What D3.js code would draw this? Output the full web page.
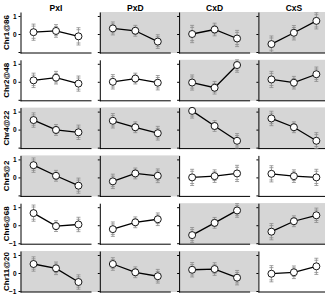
<!DOCTYPE html>
<html>
<head>
<meta charset="utf-8">
<script src="https://cdn.jsdelivr.net/npm/d3@7"></script>
<style>
  html, body { margin: 0; padding: 0; background: #fff; overflow: hidden; }
  svg { display: block; }
  text { font-family: "Liberation Sans", Arial, sans-serif; font-weight: bold; fill: #000; }
</style>
</head>
<body>
<div id="chart"></div>
<script>
// 数据
const crosses = ['PxI', 'PxD', 'CxD', 'CxS'];
const loci = ['Chr1@86', 'Chr2@48', 'Chr4@22', 'Chr5@2', 'Chr6@68', 'Chr11@20'];
const genotypes = [
    ['P/P', 'P/I', 'I/I'],
    ['P/P', 'P/D', 'D/D'],
    ['C/C', 'C/D', 'D/D'],
    ['C/C', 'C/S', 'S/S']
];
const yTicks = [-1, 0, 1];

// 每行每列的均值
const means = [
    [[0.10, 0.17, -0.13], [0.31, 0.18, -0.42], [0.00, 0.25, -0.25], [-0.56, 0.07, 0.73]],
    [[0.08, 0.23, -0.10], [0.00, 0.18, -0.05], [-0.04, -0.33, 0.93], [0.13, -0.05, 0.42]],
    [[0.53, -0.02, -0.15], [0.49, 0.13, -0.20], [1.04, 0.20, -0.62], [0.62, 0.13, -0.62]],
    [[0.68, 0.09, -0.46], [-0.22, 0.22, 0.09], [0.00, 0.07, 0.22], [0.20, 0.07, 0.00]],
    [[0.67, -0.05, 0.04], [-0.22, 0.16, 0.33], [-0.55, 0.13, 0.82], [-0.36, 0.22, 0.55]],
    [[0.50, 0.26, -0.50], [0.50, 0.04, -0.18], [0.18, 0.22, -0.26], [-0.04, 0.04, 0.37]]
];

// 误差
const errs = [
    [[0.45, 0.35, 0.48], [0.36, 0.30, 0.38], [0.48, 0.35, 0.45], [0.45, 0.40, 0.45]],
    [[0.40, 0.35, 0.42], [0.40, 0.30, 0.40], [0.42, 0.35, 0.40], [0.45, 0.35, 0.40]],
    [[0.40, 0.30, 0.40], [0.40, 0.30, 0.38], [0.40, 0.30, 0.40], [0.40, 0.30, 0.45]],
    [[0.40, 0.30, 0.42], [0.40, 0.30, 0.38], [0.45, 0.35, 0.45], [0.45, 0.35, 0.45]],
    [[0.45, 0.30, 0.40], [0.40, 0.30, 0.35], [0.42, 0.30, 0.38], [0.45, 0.30, 0.40]],
    [[0.40, 0.35, 0.40], [0.35, 0.30, 0.38], [0.40, 0.35, 0.40], [0.45, 0.35, 0.45]]
];

// 灰色背景的面板
const shaded = [
    [false, true, false, true],
    [false, false, true, false],
    [true, true, true, true],
    [true, false, false, false],
    [false, false, true, true],
    [true, true, false, false]
];

const W = 325, H = 296;
const left0 = 20.5, colPitch = 79.3, panelW = 71;
const top0 = 12, rowPitch = 47.8, panelH = 41;

const svg = d3.select('#chart').append('svg')
    .attr('width', W)
    .attr('height', H);

const y = d3.scaleLinear().domain([-1.055, 1.222]).range([panelH, 0]);

// 列标题
crosses.forEach((c, ci) => {
    svg.append('text')
        .attr('x', left0 + ci * colPitch + panelW / 2)
        .attr('y', 10.5)
        .attr('text-anchor', 'middle')
        .attr('font-size', 8.5)
        .text(c);
});

loci.forEach((locus, ri) => {
    const py = top0 + ri * rowPitch;

    // 行标签
    svg.append('text')
        .attr('transform', `translate(8.5,${py + panelH / 2}) rotate(-90)`)
        .attr('text-anchor', 'middle')
        .attr('font-size', 8)
        .text(locus);

    crosses.forEach((c, ci) => {
        const px = left0 + ci * colPitch;
        const g = svg.append('g').attr('transform', `translate(${px},${py})`);
        const x = d3.scalePoint().domain(genotypes[ci]).range([0, panelW]).padding(0.58);

        if (shaded[ri][ci]) {
            g.append('rect')
                .attr('width', colPitch * 2)
                .attr('height', panelH)
                .attr('fill', '#d6d6d6');
        }

        // y轴
        const showLabels = ci === 0;
        const tickVals = ri >= 4 ? yTicks : [0, 1];
        const yAxis = d3.axisLeft(y)
            .tickValues(yTicks)
            .tickSize(2)
            .tickSizeOuter(0)
            .tickFormat(d => (showLabels && tickVals.includes(d)) ? d3.format('d')(d) : '');
        const ya = g.append('g').call(yAxis);
        ya.select('.domain').attr('stroke', '#000').attr('stroke-width', 1);
        ya.selectAll('.tick line').attr('stroke', '#000');
        ya.selectAll('.tick text')
            .attr('font-size', 6.5)
            .attr('font-family', '"Liberation Sans", Arial, sans-serif')
            .attr('font-weight', 'bold')
            .attr('x', -4);

        // x轴
        g.append('line')
            .attr('x1', 0).attr('x2', panelW)
            .attr('y1', panelH).attr('y2', panelH)
            .attr('stroke', '#000');

        if (ri === loci.length - 1) {
            genotypes[ci].forEach(gt => {
                svg.append('text')
                    .attr('x', px + x(gt))
                    .attr('y', 300.5)
                    .attr('text-anchor', 'middle')
                    .attr('font-size', 8)
                    .text(gt);
            });
        }

        const pts = genotypes[ci].map((gt, k) => ({
            gt, m: means[ri][ci][k], e: errs[ri][ci][k]
        }));

        // 误差线
        const clip = v => Math.max(0, Math.min(panelH, v));
        const eb = g.append('g').attr('stroke', '#8a8a8a').attr('stroke-width', 0.8);
        pts.forEach(p => {
            const cx = x(p.gt);
            const yt = clip(y(p.m + p.e)), yb = clip(y(p.m - p.e));
            eb.append('line').attr('x1', cx).attr('x2', cx).attr('y1', yt).attr('y2', yb);
            [yt, yt + 2, yb, yb - 2].forEach(yy => {
                eb.append('line')
                    .attr('x1', cx - 2).attr('x2', cx + 2)
                    .attr('y1', yy).attr('y2', yy);
            });
        });

        // 均值连线
        g.append('path')
            .datum(pts)
            .attr('fill', 'none')
            .attr('stroke', '#000')
            .attr('stroke-width', 1.3)
            .attr('d', d3.line().x(d => x(d.gt)).y(d => y(d.m)));

        g.selectAll('circle')
            .data(pts)
            .enter().append('circle')
            .attr('cx', d => x(d.gt))
            .attr('cy', d => y(d.m))
            .attr('r', 3.5)
            .attr('fill', '#fff')
            .attr('stroke', '#000')
            .attr('stroke-width', 0.9);
    });
});
</script>
</body>
</html>
